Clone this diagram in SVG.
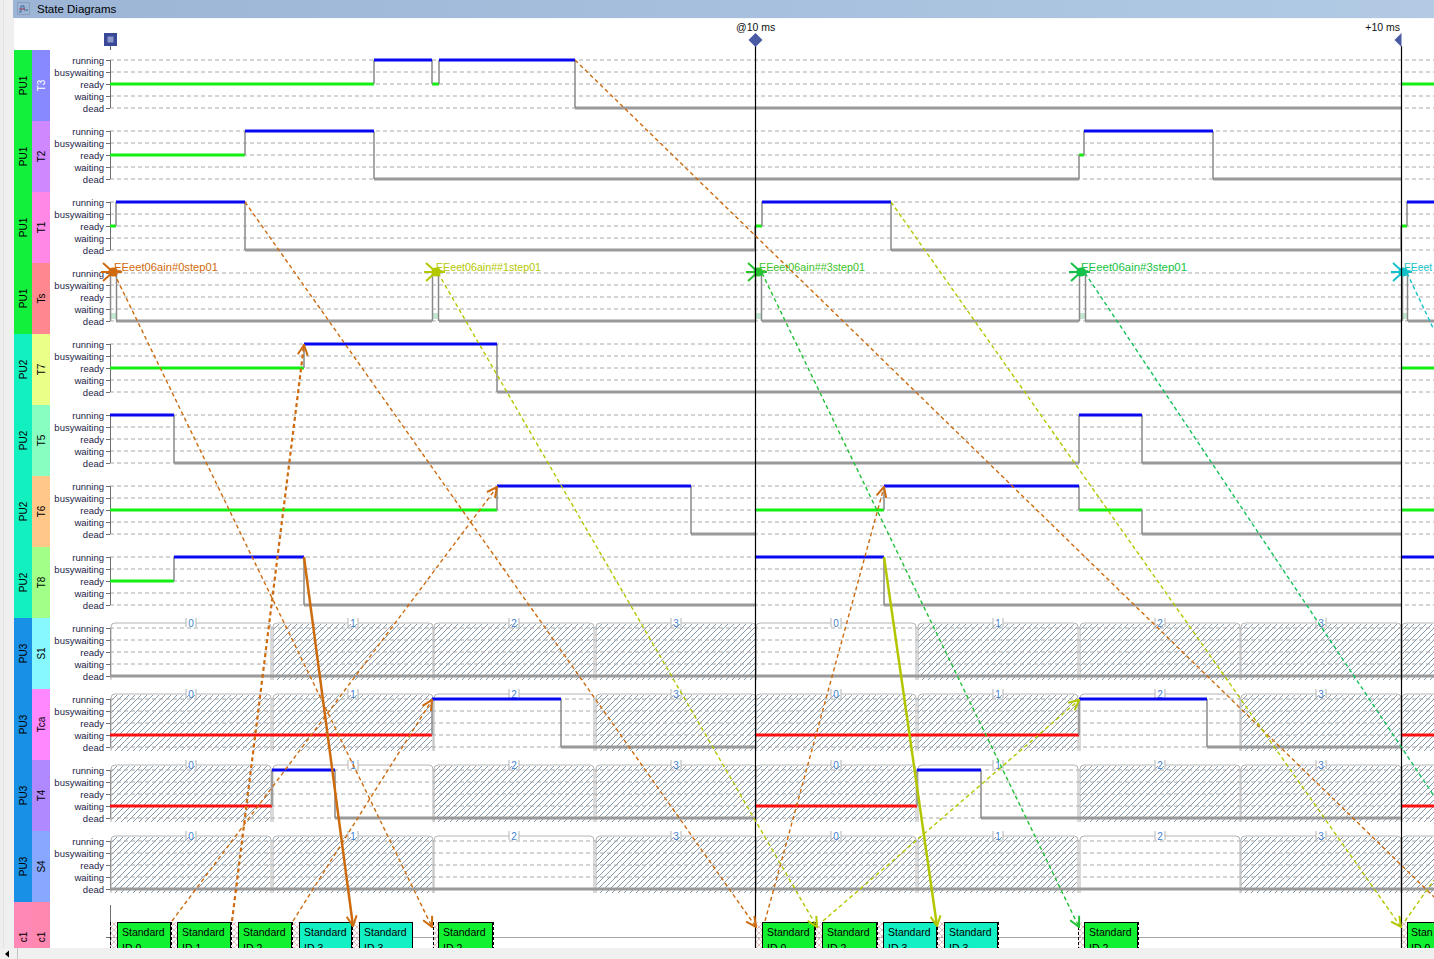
<svg xmlns="http://www.w3.org/2000/svg" width="1434" height="959" viewBox="0 0 1434 959">
<defs>
<style>
text{font-family:"Liberation Sans",Arial,sans-serif}
.dl{stroke:#a8a8a8;stroke-width:1;stroke-dasharray:4 3;fill:none}
.lv text{font-size:9.5px;fill:#1e1e48;text-anchor:end}
.ax{stroke:#707070;stroke-width:1;fill:none}
.run{stroke:#0808f2;stroke-width:3;fill:none}
.rdy{stroke:#12f012;stroke-width:3;fill:none}
.dead{stroke:#9a9a9a;stroke-width:3;fill:none}
.wt{stroke:#ff1010;stroke-width:3;fill:none}
.tr{stroke:#8a8a8a;stroke-width:1.5;fill:none}
.so{stroke:#b4b4b4;stroke-width:1;fill:none}
.sd{font-size:10px;fill:#3f7fcf;text-anchor:middle}
.pu{font-size:10px;fill:#000;text-anchor:middle}
.bx text{font-size:10.5px;fill:#000}
.ev{font-size:10.5px}
.cn{fill:none;stroke-width:1.4;stroke-dasharray:4 3}
.cs{fill:none;stroke-width:2.5}
.pre{fill:url(#xh)}
.pl{stroke:#000;stroke-width:1;stroke-dasharray:3 2;fill:none}
</style>
<pattern id="hatch" width="6" height="6" patternUnits="userSpaceOnUse"><path d="M-1,1 L1,-1 M0,6 L6,0 M5,7 L7,5" stroke="#8599ad" stroke-width="1"/></pattern>
<pattern id="xh" width="6" height="6" patternUnits="userSpaceOnUse"><path d="M0,0 L6,6 M6,0 L0,6" stroke="#e6c0c0" stroke-width="1"/></pattern>
<linearGradient id="tb" x1="0" x2="1"><stop offset="0" stop-color="#9cb5d6"/><stop offset="1" stop-color="#b2cae4"/></linearGradient>
<g id="lv" class="lv">
<path class="dl" d="M110,0 H1434 M110,12 H1434 M110,24 H1434 M110,36 H1434 M110,48 H1434"/>
<text x="104" y="3.5">running</text>
<text x="104" y="15.5">busywaiting</text>
<text x="104" y="27.5">ready</text>
<text x="104" y="39.5">waiting</text>
<text x="104" y="51.5">dead</text>
<path class="ax" d="M110.5,0 V48 M106,0.5 H110 M106,12.5 H110 M106,24.5 H110 M106,36.5 H110 M106,48.5 H110"/>
</g>
<rect id="hs" width="159" height="56" fill="url(#hatch)"/>
<path id="so" class="so" d="M1,57 V4 Q1,0 5,0 H76 M86,0 H157 Q161,0 161,4 V57 M76,-5 V4 M86,-5 V4"/>
<g id="star"><circle r="4.5" fill="currentColor"/><path d="M0,0 L-10,-9 M0,0 L-12,0 M0,0 L-10,9 M0,0 L9,0 M-4,-3 L4,3 M-4,3 L4,-3" stroke="currentColor" stroke-width="2"/></g>
<marker id="mO" viewBox="0 0 12 12" markerWidth="12" markerHeight="12" refX="11" refY="6" orient="auto" markerUnits="userSpaceOnUse"><path d="M1,1 L11,6 L1,11" fill="none" stroke="#cd6b0f" stroke-width="2"/></marker>
<marker id="mY" viewBox="0 0 12 12" markerWidth="12" markerHeight="12" refX="11" refY="6" orient="auto" markerUnits="userSpaceOnUse"><path d="M1,1 L11,6 L1,11" fill="none" stroke="#b3c700" stroke-width="2"/></marker>
<marker id="mG" viewBox="0 0 12 12" markerWidth="12" markerHeight="12" refX="11" refY="6" orient="auto" markerUnits="userSpaceOnUse"><path d="M1,1 L11,6 L1,11" fill="none" stroke="#22c035" stroke-width="2"/></marker>
</defs>

<rect width="1434" height="959" fill="#ffffff"/>
<rect x="0" y="0" width="14" height="959" fill="#efefef"/>
<line x1="3.5" y1="0" x2="3.5" y2="959" stroke="#e2e2e2"/>

<g id="titlebar">
<rect x="13" y="0" width="1421" height="18" fill="url(#tb)"/>
<line x1="13" y1="18.5" x2="1434" y2="18.5" stroke="#f4f8fc"/>
<rect x="17.5" y="2.5" width="12" height="12" fill="none" stroke="#8a9ab8" stroke-width="0.8"/>
<path d="M19,12 H21 V6 H24 V10 H28" fill="none" stroke="#3a6a9a" stroke-width="1"/>
<path d="M19,9 H25" fill="none" stroke="#b04050" stroke-width="1"/>
<text x="37" y="12.5" font-size="11.5" fill="#000">State Diagrams</text>
</g>

<g id="timemarkers">
<rect x="104" y="33" width="13" height="13" fill="#3a4898"/>
<rect x="107.5" y="36.5" width="6" height="6" fill="#8a98cc"/>
<line x1="110.5" y1="46" x2="110.5" y2="50" stroke="#666"/>
<text x="736" y="30.5" font-size="10.5" fill="#111">@10 ms</text>
<text x="1400" y="30.5" font-size="10.5" fill="#111" text-anchor="end">+10 ms</text>
</g>

<!-- rows -->
<g id="row-T3">
<rect x="14" y="50" width="18" height="71" fill="#12f03c"/><rect x="32" y="50" width="18" height="71" fill="#8888ff"/>
<text class="pu" transform="translate(27,85.5) rotate(-90)">PU1</text><text class="pu" style="fill:#fff" transform="translate(45,85.5) rotate(-90)">T3</text>
<use href="#lv" y="60"/>
<path class="rdy" d="M110,84 H374 M432,84 H439 M1401,84 H1434"/>
<path class="dead" d="M575,108 H1401"/>
<path class="tr" d="M374,84 V60 M432,60 V84 M439,84 V60 M575,60 V108"/>
<path class="run" d="M374,60 H432 M439,60 H575"/>
</g>
<g id="row-T2">
<rect x="14" y="121" width="18" height="71" fill="#12f03c"/><rect x="32" y="121" width="18" height="71" fill="#d088ff"/>
<text class="pu" transform="translate(27,156.5) rotate(-90)">PU1</text><text class="pu" transform="translate(45,156.5) rotate(-90)">T2</text>
<use href="#lv" y="131"/>
<path class="rdy" d="M110,155 H245 M1079,155 H1084"/>
<path class="dead" d="M374,179 H1079 M1213,179 H1401"/>
<path class="tr" d="M245,155 V131 M374,131 V179 M1079,179 V155 M1084,155 V131 M1213,131 V179"/>
<path class="run" d="M245,131 H374 M1084,131 H1213"/>
</g>
<g id="row-T1">
<rect x="14" y="192" width="18" height="71" fill="#12f03c"/><rect x="32" y="192" width="18" height="71" fill="#ff88e6"/>
<text class="pu" transform="translate(27,227.5) rotate(-90)">PU1</text><text class="pu" transform="translate(45,227.5) rotate(-90)">T1</text>
<use href="#lv" y="202"/>
<path class="rdy" d="M110,226 H116 M755,226 H762 M1401,226 H1407"/>
<path class="dead" d="M245,250 H755 M891,250 H1401"/>
<path class="tr" d="M116,226 V202 M245,202 V250 M755,250 V226 M762,226 V202 M891,202 V250 M1401,250 V226 M1407,226 V202"/>
<path class="run" d="M116,202 H245 M762,202 H891 M1407,202 H1434"/>
</g>
<g id="row-Ts">
<rect x="14" y="263" width="18" height="71" fill="#12f03c"/><rect x="32" y="263" width="18" height="71" fill="#ff8890"/>
<text class="pu" transform="translate(27,298.5) rotate(-90)">PU1</text><text class="pu" transform="translate(45,298.5) rotate(-90)">Ts</text>
<use href="#lv" y="273"/>
<path d="M110,313 h6 v6 h-6z M432,313 h6 v6 h-6z M755,313 h6 v6 h-6z M1079,313 h6 v6 h-6z M1401,313 h6 v6 h-6z" fill="#c2e8d2"/>
<path class="dead" d="M116,321 H432 M439,321 H755 M762,321 H1079 M1085,321 H1401 M1408,321 H1434"/>
<path class="tr" d="M110.5,273 V321 M116.5,273 V321 M432.5,273 V321 M438.5,273 V321 M755.5,273 V321 M761.5,273 V321 M1079.5,273 V321 M1085.5,273 V321 M1402.5,273 V321 M1407.5,273 V321"/>
<use href="#star" x="113" y="272" style="color:#d06a0c"/>
<use href="#star" x="436" y="272" style="color:#b4c800"/>
<use href="#star" x="758" y="272" style="color:#26c232"/>
<use href="#star" x="1081" y="272" style="color:#12c24a"/>
<use href="#star" x="1403" y="272" style="color:#12c2c8"/>
<text class="ev" x="114" y="271" fill="#d06a0c" textLength="104" lengthAdjust="spacingAndGlyphs">EEeet06ain#0step01</text>
<text class="ev" x="436" y="271" fill="#b4c800" textLength="105" lengthAdjust="spacingAndGlyphs">EEeet06ain##1step01</text>
<text class="ev" x="759" y="271" fill="#3cc228" textLength="106" lengthAdjust="spacingAndGlyphs">EEeet06ain##3step01</text>
<text class="ev" x="1081" y="271" fill="#14c244" textLength="106" lengthAdjust="spacingAndGlyphs">EEeet06ain#3step01</text>
<text class="ev" x="1404" y="271" fill="#12c2c8" textLength="28" lengthAdjust="spacingAndGlyphs">EEeet</text>
</g>
<g id="row-T7">
<rect x="14" y="334" width="18" height="71" fill="#12f0c0"/><rect x="32" y="334" width="18" height="71" fill="#eaff88"/>
<text class="pu" transform="translate(27,369.5) rotate(-90)">PU2</text><text class="pu" transform="translate(45,369.5) rotate(-90)">T7</text>
<use href="#lv" y="344"/>
<path class="rdy" d="M110,368 H304 M1401,368 H1434"/>
<path class="dead" d="M497,392 H1401"/>
<path class="tr" d="M304,368 V344 M497,344 V392"/>
<path class="run" d="M304,344 H497"/>
</g>
<g id="row-T5">
<rect x="14" y="405" width="18" height="71" fill="#12f0c0"/><rect x="32" y="405" width="18" height="71" fill="#88ffc0"/>
<text class="pu" transform="translate(27,440.5) rotate(-90)">PU2</text><text class="pu" transform="translate(45,440.5) rotate(-90)">T5</text>
<use href="#lv" y="415"/>
<path class="dead" d="M174,463 H1079 M1142,463 H1401"/>
<path class="tr" d="M174,415 V463 M1079,463 V415 M1142,415 V463"/>
<path class="run" d="M110,415 H174 M1079,415 H1142"/>
</g>
<g id="row-T6">
<rect x="14" y="476" width="18" height="71" fill="#12f0c0"/><rect x="32" y="476" width="18" height="71" fill="#ffc888"/>
<text class="pu" transform="translate(27,511.5) rotate(-90)">PU2</text><text class="pu" transform="translate(45,511.5) rotate(-90)">T6</text>
<use href="#lv" y="486"/>
<path class="rdy" d="M110,510 H497 M755,510 H884 M1079,510 H1142 M1401,510 H1434"/>
<path class="dead" d="M691,534 H755 M1142,534 H1401"/>
<path class="tr" d="M497,510 V486 M691,486 V534 M884,510 V486 M1079,486 V510 M1142,510 V534"/>
<path class="run" d="M497,486 H691 M884,486 H1079"/>
</g>
<g id="row-T8">
<rect x="14" y="547" width="18" height="71" fill="#12f0c0"/><rect x="32" y="547" width="18" height="71" fill="#a2ff88"/>
<text class="pu" transform="translate(27,582.5) rotate(-90)">PU2</text><text class="pu" transform="translate(45,582.5) rotate(-90)">T8</text>
<use href="#lv" y="557"/>
<path class="rdy" d="M110,581 H174"/>
<path class="dead" d="M304,605 H755 M884,605 H1401"/>
<path class="tr" d="M174,581 V557 M304,557 V605 M884,557 V605"/>
<path class="run" d="M174,557 H304 M755,557 H884 M1401,557 H1434"/>
</g>
<g id="row-S1">
<rect x="14" y="618" width="18" height="71" fill="#1890e6"/><rect x="32" y="618" width="18" height="71" fill="#88f8ff"/>
<text class="pu" transform="translate(27,653.5) rotate(-90)">PU3</text><text class="pu" transform="translate(45,653.5) rotate(-90)">S1</text>
<use href="#hs" x="273" y="624"/><use href="#hs" x="434" y="624"/><use href="#hs" x="596" y="624"/>
<use href="#hs" x="918" y="624"/><use href="#hs" x="1080" y="624"/><use href="#hs" x="1241" y="624"/><use href="#hs" x="1402" y="624"/>
<use href="#lv" y="628"/>
<use href="#so" x="110" y="623"/><use href="#so" x="272" y="623"/><use href="#so" x="433" y="623"/><use href="#so" x="595" y="623"/>
<use href="#so" x="755" y="623"/><use href="#so" x="917" y="623"/><use href="#so" x="1079" y="623"/><use href="#so" x="1240" y="623"/><use href="#so" x="1401" y="623"/>
<text class="sd" x="191" y="627">0</text><text class="sd" x="353" y="627">1</text><text class="sd" x="514" y="627">2</text><text class="sd" x="676" y="627">3</text>
<text class="sd" x="836" y="627">0</text><text class="sd" x="998" y="627">1</text><text class="sd" x="1160" y="627">2</text><text class="sd" x="1321" y="627">3</text>
<path class="dead" d="M110,676 H1434"/>
</g>
<g id="row-Tca">
<rect x="14" y="689" width="18" height="71" fill="#1890e6"/><rect x="32" y="689" width="18" height="71" fill="#ff88ff"/>
<text class="pu" transform="translate(27,724.5) rotate(-90)">PU3</text><text class="pu" transform="translate(45,724.5) rotate(-90)">Tca</text>
<use href="#hs" x="111" y="695"/><use href="#hs" x="273" y="695"/><use href="#hs" x="596" y="695"/>
<use href="#hs" x="756" y="695"/><use href="#hs" x="918" y="695"/><use href="#hs" x="1241" y="695"/><use href="#hs" x="1402" y="695"/>
<use href="#lv" y="699"/>
<use href="#so" x="110" y="694"/><use href="#so" x="272" y="694"/><use href="#so" x="433" y="694"/><use href="#so" x="595" y="694"/>
<use href="#so" x="755" y="694"/><use href="#so" x="917" y="694"/><use href="#so" x="1079" y="694"/><use href="#so" x="1240" y="694"/><use href="#so" x="1401" y="694"/>
<text class="sd" x="191" y="698">0</text><text class="sd" x="353" y="698">1</text><text class="sd" x="514" y="698">2</text><text class="sd" x="676" y="698">3</text>
<text class="sd" x="836" y="698">0</text><text class="sd" x="998" y="698">1</text><text class="sd" x="1160" y="698">2</text><text class="sd" x="1321" y="698">3</text>
<path class="wt" d="M110,735 H432 M755,735 H1079 M1401,735 H1434"/>
<path class="dead" d="M561,747 H755 M1207,747 H1401"/>
<path class="tr" d="M432,735 V699 M561,699 V747 M1079,735 V699 M1207,699 V747"/>
<path class="run" d="M432,699 H561 M1079,699 H1207"/>
</g>
<g id="row-T4">
<rect x="14" y="760" width="18" height="71" fill="#1890e6"/><rect x="32" y="760" width="18" height="71" fill="#b088ff"/>
<text class="pu" transform="translate(27,795.5) rotate(-90)">PU3</text><text class="pu" transform="translate(45,795.5) rotate(-90)">T4</text>
<use href="#hs" x="111" y="766"/><use href="#hs" x="434" y="766"/><use href="#hs" x="596" y="766"/>
<use href="#hs" x="756" y="766"/><use href="#hs" x="1080" y="766"/><use href="#hs" x="1241" y="766"/><use href="#hs" x="1402" y="766"/>
<use href="#lv" y="770"/>
<use href="#so" x="110" y="765"/><use href="#so" x="272" y="765"/><use href="#so" x="433" y="765"/><use href="#so" x="595" y="765"/>
<use href="#so" x="755" y="765"/><use href="#so" x="917" y="765"/><use href="#so" x="1079" y="765"/><use href="#so" x="1240" y="765"/><use href="#so" x="1401" y="765"/>
<text class="sd" x="191" y="769">0</text><text class="sd" x="353" y="769">1</text><text class="sd" x="514" y="769">2</text><text class="sd" x="676" y="769">3</text>
<text class="sd" x="836" y="769">0</text><text class="sd" x="998" y="769">1</text><text class="sd" x="1160" y="769">2</text><text class="sd" x="1321" y="769">3</text>
<path class="wt" d="M110,806 H272 M755,806 H917 M1401,806 H1434"/>
<path class="dead" d="M335,818 H755 M981,818 H1401"/>
<path class="tr" d="M272,806 V770 M335,770 V818 M917,806 V770 M981,770 V818"/>
<path class="run" d="M272,770 H335 M917,770 H981"/>
</g>
<g id="row-S4">
<rect x="14" y="831" width="18" height="71" fill="#1890e6"/><rect x="32" y="831" width="18" height="71" fill="#88a8ff"/>
<text class="pu" transform="translate(27,866.5) rotate(-90)">PU3</text><text class="pu" transform="translate(45,866.5) rotate(-90)">S4</text>
<use href="#hs" x="111" y="837"/><use href="#hs" x="273" y="837"/><use href="#hs" x="596" y="837"/>
<use href="#hs" x="756" y="837"/><use href="#hs" x="918" y="837"/><use href="#hs" x="1241" y="837"/><use href="#hs" x="1402" y="837"/>
<use href="#lv" y="841"/>
<use href="#so" x="110" y="836"/><use href="#so" x="272" y="836"/><use href="#so" x="433" y="836"/><use href="#so" x="595" y="836"/>
<use href="#so" x="755" y="836"/><use href="#so" x="917" y="836"/><use href="#so" x="1079" y="836"/><use href="#so" x="1240" y="836"/><use href="#so" x="1401" y="836"/>
<text class="sd" x="191" y="840">0</text><text class="sd" x="353" y="840">1</text><text class="sd" x="514" y="840">2</text><text class="sd" x="676" y="840">3</text>
<text class="sd" x="836" y="840">0</text><text class="sd" x="998" y="840">1</text><text class="sd" x="1160" y="840">2</text><text class="sd" x="1321" y="840">3</text>
<path class="dead" d="M110,889 H1434"/>
</g>
<g id="row-c1">
<rect x="14" y="902" width="18" height="50" fill="#ff88b6"/><rect x="32" y="902" width="18" height="50" fill="#ff88b0"/>
<text class="pu" transform="translate(27,937) rotate(-90)">c1</text><text class="pu" transform="translate(45,937) rotate(-90)">c1</text>
<path class="ax" d="M110.5,905 V948 M106,937.5 H110"/>
<line x1="110" y1="937.5" x2="1434" y2="937.5" stroke="#a8a8a8"/>
<g class="bx">
<rect class="pre" x="110" y="922" width="7" height="30"/><rect class="pre" x="171" y="922" width="6" height="30"/><rect class="pre" x="231" y="922" width="7" height="30"/><rect class="pre" x="292" y="922" width="7" height="30"/><rect class="pre" x="352" y="922" width="7" height="30"/><rect class="pre" x="433" y="922" width="5" height="30"/>
<rect class="pre" x="755" y="922" width="7" height="30"/><rect class="pre" x="815" y="922" width="7" height="30"/><rect class="pre" x="877" y="922" width="6" height="30"/><rect class="pre" x="937" y="922" width="7" height="30"/><rect class="pre" x="1078" y="922" width="6" height="30"/><rect class="pre" x="1401" y="922" width="6" height="30"/>
<path class="pl" d="M110.5,922 V948 M171.5,922 V948 M231.5,922 V948 M292.5,922 V948 M352.5,922 V948 M433.5,922 V948 M493.5,922 V948 M755.5,922 V948 M815.5,922 V948 M877.5,922 V948 M937.5,922 V948 M998.5,922 V948 M1078.5,922 V948 M1138.5,922 V948 M1401.5,922 V948"/>
<rect x="117.5" y="922.5" width="53" height="30" fill="#12f032" stroke="#000"/><text x="122" y="936">Standard</text><text x="122" y="952">ID 0</text>
<rect x="177.5" y="922.5" width="53" height="30" fill="#12f032" stroke="#000"/><text x="182" y="936">Standard</text><text x="182" y="952">ID 1</text>
<rect x="238.5" y="922.5" width="53" height="30" fill="#12f032" stroke="#000"/><text x="243" y="936">Standard</text><text x="243" y="952">ID 2</text>
<rect x="299.5" y="922.5" width="52" height="30" fill="#12f0c4" stroke="#000"/><text x="304" y="936">Standard</text><text x="304" y="952">ID 3</text>
<rect x="359.5" y="922.5" width="53" height="30" fill="#12f0c4" stroke="#000"/><text x="364" y="936">Standard</text><text x="364" y="952">ID 3</text>
<rect x="438.5" y="922.5" width="54" height="30" fill="#12f032" stroke="#000"/><text x="443" y="936">Standard</text><text x="443" y="952">ID 2</text>
<rect x="762.5" y="922.5" width="52" height="30" fill="#12f032" stroke="#000"/><text x="767" y="936">Standard</text><text x="767" y="952">ID 0</text>
<rect x="822.5" y="922.5" width="54" height="30" fill="#12f032" stroke="#000"/><text x="827" y="936">Standard</text><text x="827" y="952">ID 2</text>
<rect x="883.5" y="922.5" width="53" height="30" fill="#12f0c4" stroke="#000"/><text x="888" y="936">Standard</text><text x="888" y="952">ID 3</text>
<rect x="944.5" y="922.5" width="53" height="30" fill="#12f0c4" stroke="#000"/><text x="949" y="936">Standard</text><text x="949" y="952">ID 3</text>
<rect x="1084.5" y="922.5" width="53" height="30" fill="#12f032" stroke="#000"/><text x="1089" y="936">Standard</text><text x="1089" y="952">ID 2</text>
<rect x="1407.5" y="922.5" width="40" height="30" fill="#12f032" stroke="#000"/><text x="1411" y="936">Stan</text><text x="1411" y="952">ID 0</text>
</g>
</g>

<g id="timelines">
<line x1="755.5" y1="46" x2="755.5" y2="948" stroke="#000" stroke-width="1.2"/>
<line x1="1401.5" y1="46" x2="1401.5" y2="948" stroke="#000" stroke-width="1.2"/>
<polygon points="755.5,33 762.5,40 755.5,47 748.5,40" fill="#4a5aa4"/>
<polygon points="1401.5,33 1394.5,40 1401.5,47" fill="#4a5aa4"/>
</g>

<g id="connectors">
<g stroke="#cd6b0f">
<line class="cn" x1="575" y1="60" x2="1434" y2="897"/>
<line class="cn" x1="245" y1="202" x2="756" y2="927" marker-end="url(#mO)"/>
<line class="cn" x1="114" y1="273" x2="432" y2="927" marker-end="url(#mO)"/>
<line class="cs" x1="304" y1="557" x2="353" y2="926" marker-end="url(#mO)"/>
<line class="cn" style="stroke-width:2.2" x1="232" y1="921" x2="304" y2="345" marker-end="url(#mO)"/>
<line class="cn" x1="172" y1="921" x2="497" y2="487" marker-end="url(#mO)"/>
<line class="cn" x1="293" y1="921" x2="432" y2="700" marker-end="url(#mO)"/>
<line class="cn" x1="765" y1="921" x2="884" y2="487" marker-end="url(#mO)"/>
</g>
<g stroke="#b3c700">
<line class="cn" x1="438" y1="273" x2="817" y2="927" marker-end="url(#mY)"/>
<line class="cn" x1="823" y1="921" x2="1079" y2="700" marker-end="url(#mY)"/>
<line class="cs" x1="884" y1="557" x2="937" y2="926" marker-end="url(#mY)"/>
<line class="cn" x1="891" y1="202" x2="1401" y2="927" marker-end="url(#mY)"/>
<line class="cn" x1="1405" y1="921" x2="1434" y2="880"/>
</g>
<g stroke="#22c035">
<line class="cn" x1="762" y1="273" x2="1079" y2="927" marker-end="url(#mG)"/>
</g>
<line class="cn" stroke="#14c25a" x1="1085" y1="273" x2="1434" y2="796"/>
<line class="cn" stroke="#12c2c8" x1="1407" y1="273" x2="1434" y2="330"/>
</g>

<g id="scrollbar">
<rect x="0" y="948" width="1434" height="11" fill="#f0f0f0"/>
<polygon points="5,954 9,950.5 9,957.5" fill="#000"/>
<line x1="17.5" y1="948" x2="17.5" y2="959" stroke="#c4c4c4"/>
</g>
</svg>
